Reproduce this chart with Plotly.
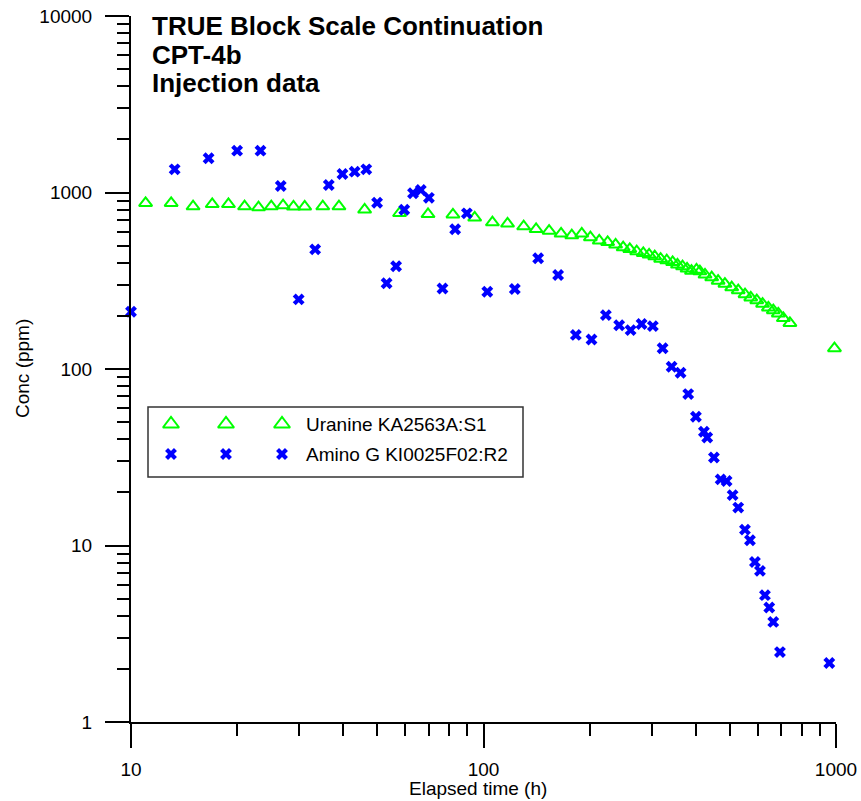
import plotly.graph_objects as go

# Uranine KA2563A:S1 (elapsed time h, concentration ppm)
uranine_t = [11.0, 13.0, 15.0, 17.0, 18.9, 21.0, 23.0, 25.0, 27.0, 28.9, 31.1, 35.0,
             38.9, 46.0, 57.8, 69.6, 81.9, 94.4, 106, 117, 130, 141, 153.5, 166,
             178, 190, 201, 213, 225, 237, 249, 260, 272, 284, 295, 306, 318, 331,
             344, 355, 367, 378, 389, 402, 411, 425, 444, 463, 484, 506, 528, 552,
             573, 596, 619, 643, 664, 686, 709, 740, 990]
uranine_c = [871, 871, 834, 859, 859, 834, 823, 834, 845, 831, 831, 834,
             834, 799, 764, 754, 750, 720, 677, 666, 642, 620, 607, 584,
             571, 584, 557, 533, 523, 506, 488, 478, 464, 453, 444, 434, 421, 412,
             403, 390, 381, 370, 360, 365, 357, 342, 330, 316, 304, 290, 279, 265,
             254, 245, 234, 223, 215, 206, 194, 182, 131]

# Amino G KI0025F02:R2
amino_t = [10.0, 13.3, 16.6, 20.0, 23.3, 26.6, 29.9, 33.3, 36.4, 39.8, 43.1, 46.5,
           49.9, 53.1, 56.5, 59.6, 63.1, 66.4, 70.0, 76.5, 83.1, 89.7, 102.5, 122.7,
           142.9, 162.8, 182.8, 202.5, 222.4, 242.6, 261.4, 280.8, 302.3, 322.2,
           341.7, 362.3, 380.8, 400.5, 422.0, 431.2, 450.5, 470.7, 489.4, 509.0,
           528.0, 551.7, 570.0, 588.9, 608.5, 628.7, 646.6, 663.7, 693.4, 957.2]
amino_c = [211, 1353, 1563, 1726, 1726, 1089, 248, 476, 1103, 1273, 1312, 1353,
           875, 306, 382, 799, 990, 1033, 933, 286, 619, 762, 274, 284,
           424, 341, 156, 147, 202, 177, 166, 180, 175, 131,
           103, 95.2, 72.1, 53.6, 44.1, 40.9, 31.5, 23.7, 23.2, 19.3,
           16.4, 12.3, 10.7, 8.07, 7.18, 5.23, 4.45, 3.69, 2.49, 2.16]

series_names = ["Uranine KA2563A:S1", "Amino G KI0025F02:R2"]
x_ticks = [10, 100, 1000]
y_ticks = [1, 10, 100, 1000, 10000]
title_lines = ["TRUE Block Scale Continuation", "CPT-4b", "Injection data"]

GREEN = "#00ff00"
BLUE = "#0000ff"
FONT = "Liberation Sans, Arial, sans-serif"

W, H = 861, 801
ML, MR, MT, MB = 131, 25, 16, 79
PW, PH = W - ML - MR, H - MT - MB


def px_x(p):
    """Horizontal page pixel -> paper coordinate."""
    return (p - ML) / PW


def px_y(p):
    """Vertical page pixel (from top) -> paper coordinate."""
    return (H - MB - p) / PH


def minor_vals(lo, hi):
    return [k * 10 ** e for e in range(lo, hi) for k in range(2, 10)]


tri_marker = dict(symbol="triangle-up-open", size=11.5, color=GREEN, line=dict(width=2, color=GREEN))
x_marker = dict(symbol="x", size=10.5, color=BLUE, line=dict(width=0))

fig = go.Figure()
fig.add_trace(go.Scatter(x=uranine_t, y=uranine_c, mode="markers", marker=tri_marker,
                         name=series_names[0], cliponaxis=False, showlegend=False))
fig.add_trace(go.Scatter(x=amino_t, y=amino_c, mode="markers", marker=x_marker,
                         name=series_names[1], cliponaxis=False, showlegend=False))

# Legend box with three sample symbols per entry
box_l, box_r, box_t, box_b = 148, 523, 407, 477
row_y = [424, 454]
sample_x = [171, 226, 282]
text_x = 304

fig.add_shape(type="rect", xref="paper", yref="paper",
              x0=px_x(box_l), x1=px_x(box_r), y0=px_y(box_b), y1=px_y(box_t),
              line=dict(color="#333333", width=1.5), fillcolor="white", layer="below")

legend_markers = [dict(tri_marker, size=14), x_marker]
for name, mk, ry in zip(series_names, legend_markers, row_y):
    fig.add_trace(go.Scatter(x=[px_x(s) for s in sample_x], y=[px_y(ry)] * 3,
                             mode="markers", marker=mk, xaxis="x2", yaxis="y2",
                             showlegend=False, hoverinfo="skip", cliponaxis=False))
    fig.add_annotation(x=px_x(text_x), y=px_y(ry), xref="paper", yref="paper",
                       text=name, showarrow=False, xanchor="left", yanchor="middle",
                       font=dict(family=FONT, size=19, color="black"))

# Title block
for line, ty in zip(title_lines, [26, 55, 83]):
    fig.add_annotation(x=px_x(150), y=px_y(ty), xref="paper", yref="paper",
                       text="<b>" + line + "</b>", showarrow=False,
                       xanchor="left", yanchor="middle",
                       font=dict(family=FONT, size=26, color="black"))

# Axis titles
fig.add_annotation(x=px_x(478), y=px_y(788), xref="paper", yref="paper",
                   text="Elapsed time (h)", showarrow=False, xanchor="center", yanchor="middle",
                   font=dict(family=FONT, size=19, color="black"))
fig.add_annotation(x=px_x(22), y=px_y(369), xref="paper", yref="paper",
                   text="Conc (ppm)", showarrow=False, textangle=-90,
                   xanchor="center", yanchor="middle",
                   font=dict(family=FONT, size=19, color="black"))

axis_common = dict(type="log", showline=True, linecolor="black", linewidth=2,
                   ticks="outside", ticklen=24, tickwidth=2, tickcolor="black",
                   showgrid=False, zeroline=False, mirror=False, automargin=False,
                   tickfont=dict(family=FONT, size=19, color="black"))

fig.update_layout(
    template="none",
    width=W, height=H,
    margin=dict(l=ML, r=MR, t=MT, b=MB, autoexpand=False),
    paper_bgcolor="white", plot_bgcolor="white",
    showlegend=False,
    xaxis=dict(axis_common, range=[1, 3], tickvals=x_ticks,
               ticktext=[str(v) for v in x_ticks], ticklabelstandoff=5,
               minor=dict(tickvals=minor_vals(1, 3), ticks="outside", ticklen=12,
                          tickwidth=2, tickcolor="black", showgrid=False)),
    yaxis=dict(axis_common, range=[0, 4], tickvals=y_ticks,
               ticktext=[str(v) for v in y_ticks], ticklabelstandoff=9,
               minor=dict(tickvals=minor_vals(0, 4), ticks="outside", ticklen=12,
                          tickwidth=2, tickcolor="black", showgrid=False)),
    xaxis2=dict(domain=[0, 1], range=[0, 1], overlaying="x", anchor="y2", visible=False),
    yaxis2=dict(domain=[0, 1], range=[0, 1], overlaying="y", anchor="x2", visible=False),
)

fig.write_html("out.html")
